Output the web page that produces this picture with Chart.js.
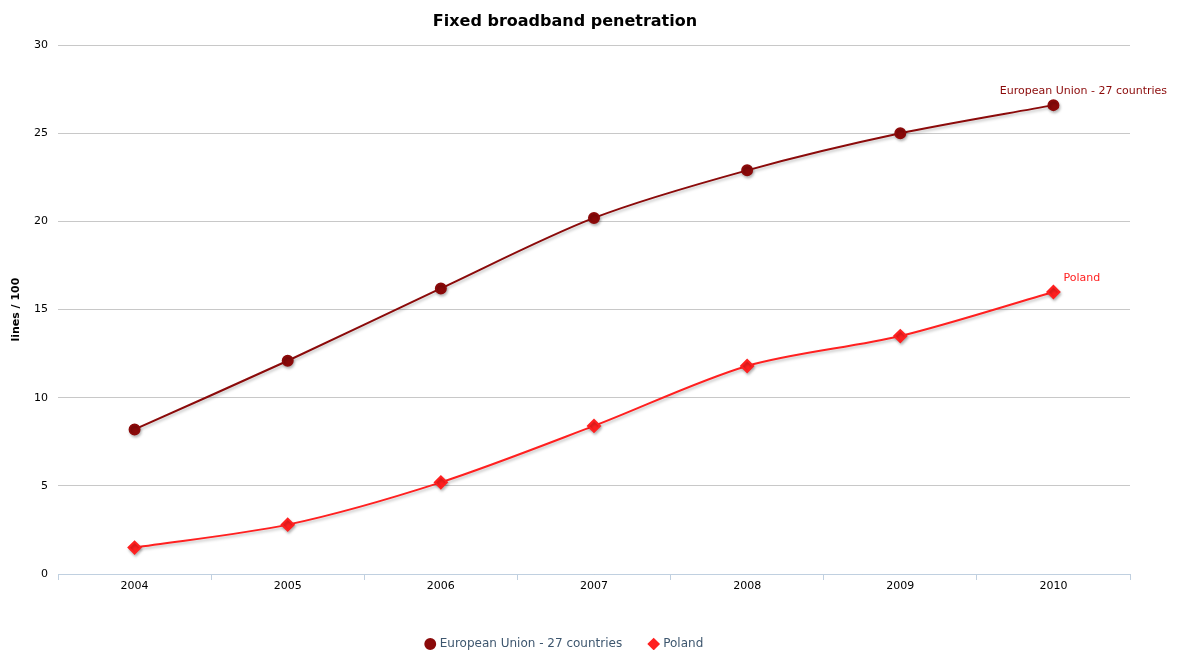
<!DOCTYPE html>
<html>
<head>
<meta charset="utf-8">
<script src="https://cdn.jsdelivr.net/npm/chart.js@4"></script>
<style>
  html, body { margin: 0; padding: 0; background: #fff; }
  #wrap { width: 1180px; height: 650px; }
</style>
</head>
<body>
<div id="wrap"><canvas id="chart" width="1180" height="650"></canvas></div>
<script>
// data
const years = ["2004", "2005", "2006", "2007", "2008", "2009", "2010"];
const euValues = [8.2, 12.1, 16.2, 20.2, 22.9, 25.0, 26.6];
const polandValues = [1.5, 2.8, 5.2, 8.4, 11.8, 13.5, 16.0];
const yTicks = [0, 5, 10, 15, 20, 25, 30];

const euColor = "#8b0a0a";
const plColor = "#ff2020";
const fontFamily = "'DejaVu Sans', sans-serif";

// soft shadow under the lines, like the original
const shadowPlugin = {
  id: "lineShadow",
  beforeDatasetDraw(chart) {
    const ctx = chart.ctx;
    ctx.save();
    ctx.shadowColor = "rgba(0,0,0,0.25)";
    ctx.shadowOffsetX = 1;
    ctx.shadowOffsetY = 2;
    ctx.shadowBlur = 3;
  },
  afterDatasetDraw(chart) {
    chart.ctx.restore();
  }
};

// series name written next to the last point
const endLabelPlugin = {
  id: "endLabels",
  afterDatasetsDraw(chart) {
    const ctx = chart.ctx;
    ctx.save();
    ctx.font = "11px " + fontFamily;
    ctx.textBaseline = "middle";
    chart.data.datasets.forEach((ds, i) => {
      const meta = chart.getDatasetMeta(i);
      const last = meta.data[meta.data.length - 1];
      ctx.fillStyle = ds.borderColor;
      ctx.textAlign = i === 0 ? "center" : "left";
      const x = i === 0 ? last.x + 30 : last.x + 10;
      ctx.fillText(ds.label, x, last.y - 14);
    });
    ctx.restore();
  }
};

const ctx = document.getElementById("chart").getContext("2d");

new Chart(ctx, {
  type: "line",
  data: {
    labels: years,
    datasets: [{
      label: "European Union - 27 countries",
      data: euValues,
      borderColor: euColor,
      backgroundColor: euColor,
      borderWidth: 2,
      tension: 0.3,
      pointStyle: "circle",
      pointRadius: 5,
      pointHoverRadius: 6
    }, {
      label: "Poland",
      data: polandValues,
      borderColor: plColor,
      backgroundColor: plColor,
      borderWidth: 2,
      tension: 0.3,
      pointStyle: "rectRot",
      pointRadius: 6,
      pointHoverRadius: 7
    }]
  },
  options: {
    responsive: false,
    animation: false,
    layout: { padding: { left: 0, right: 50, top: 6, bottom: -10 } },
    plugins: {
      title: {
        display: true,
        text: "Fixed broadband penetration",
        color: "#000",
        font: { family: fontFamily, size: 16, weight: "bold" },
        padding: { top: 6, bottom: 14 }
      },
      legend: {
        position: "bottom",
        labels: {
          usePointStyle: true,
          boxWidth: 7,
          boxHeight: 7,
          padding: 28,
          color: "#3e576f",
          font: { family: fontFamily, size: 12 }
        }
      },
      tooltip: { enabled: false }
    },
    scales: {
      x: {
        offset: true,
        border: { color: "#c0d0e0", width: 1 },
        grid: {
          offset: true,
          drawOnChartArea: false,
          drawTicks: true,
          tickLength: 6,
          color: "#c0d0e0"
        },
        ticks: {
          color: "#000",
          padding: 0,
          font: { family: fontFamily, size: 11 }
        },
        afterFit(scale) { scale.height = 36; }
      },
      y: {
        min: 0,
        max: 30,
        afterBuildTicks(scale) {
          scale.ticks = yTicks.map(v => ({ value: v }));
        },
        border: { display: false },
        grid: {
          color: "#c8c8c8",
          drawTicks: false
        },
        ticks: {
          color: "#000",
          padding: 10,
          font: { family: fontFamily, size: 11 }
        },
        title: {
          display: true,
          text: "lines / 100",
          color: "#000",
          font: { family: fontFamily, size: 11, weight: "bold" },
          padding: { top: 10, bottom: 4 }
        },
        afterFit(scale) { scale.width = 58; }
      }
    }
  },
  plugins: [shadowPlugin, endLabelPlugin]
});
</script>
</body>
</html>
